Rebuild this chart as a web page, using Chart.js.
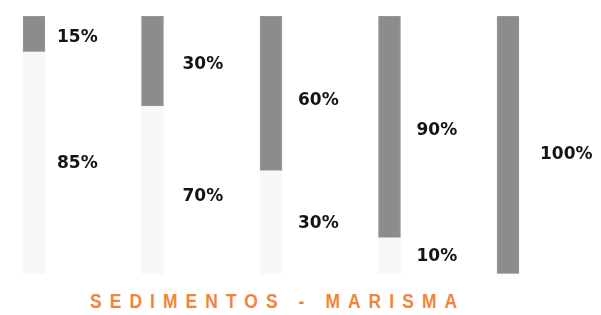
<!DOCTYPE html>
<html>
<head>
<meta charset="utf-8">
<style>
  body { margin: 0; background: #fff; width: 601px; height: 315px; overflow: hidden; }
  #wrap { position: relative; width: 601px; height: 280px; }
  #title { position: absolute; top: 291px; left: 90px; font-family: "Liberation Sans", Arial, sans-serif; font-weight: bold; font-size: 20px; line-height: 20px; letter-spacing: 9.3px; color: #f0853a; white-space: nowrap; transform: scaleX(0.87); transform-origin: left top; }
</style>
</head>
<body>
<div id="wrap"><canvas id="chart"></canvas></div>
<div id="title">SEDIMENTOS - MARISMA</div>

<script src="https://cdn.jsdelivr.net/npm/chart.js"></script>
<script>
  const samples = [0, 1, 2, 3, 4];
  const darkValues = [14, 35, 60, 86, 100];
  const lightValues = [86, 65, 40, 14, 0];
  const darkLabels = ["15%", "30%", "60%", "90%", "100%"];
  const lightLabels = ["85%", "70%", "30%", "10%", ""];

  const segmentLabels = {
    id: "segmentLabels",
    afterDatasetsDraw(chart, args, opts) {
      const ctx = chart.ctx;
      ctx.save();
      ctx.font = "bold 17px 'DejaVu Sans'";
      ctx.fillStyle = "#141414";
      ctx.textBaseline = "middle";
      [lightLabels, darkLabels].forEach((texts, di) => {
        chart.getDatasetMeta(di).data.forEach((bar, i) => {
          if (!texts[i]) return;
          ctx.fillText(texts[i], bar.x + 11 + opts.dx[i], (bar.y + bar.base) / 2 + 2 + opts.dy[di][i]);
        });
      });
      ctx.restore();
    }
  };

  new Chart(document.getElementById("chart"), {
    type: "bar",
    data: {
      datasets: [
        { data: samples.map((s, i) => ({ x: s, y: lightValues[i] })), backgroundColor: "#f8f8f8" },
        { data: samples.map((s, i) => ({ x: s, y: darkValues[i] })), backgroundColor: "#8c8c8c", borderColor: "#9a9a9a", borderWidth: 1, borderSkipped: false }
      ]
    },
    options: {
      responsive: true,
      maintainAspectRatio: false,
      animation: false,
      layout: { padding: { top: 16, bottom: 6, left: 0, right: 0 } },
      barThickness: 22,
      plugins: {
        legend: { display: false },
        tooltip: { enabled: false },
        segmentLabels: { dx: [12, 19, 16, 16, 21], dy: [[-1, 4, -1, -1, 0], [2, 1, 5, 2, 8]] }
      },
      scales: {
        x: { type: "linear", stacked: true, offset: false, min: -0.287, max: 4.785, display: false },
        y: { stacked: true, min: 0, max: 100, display: false }
      }
    },
    plugins: [segmentLabels]
  });
</script>
</body>
</html>
